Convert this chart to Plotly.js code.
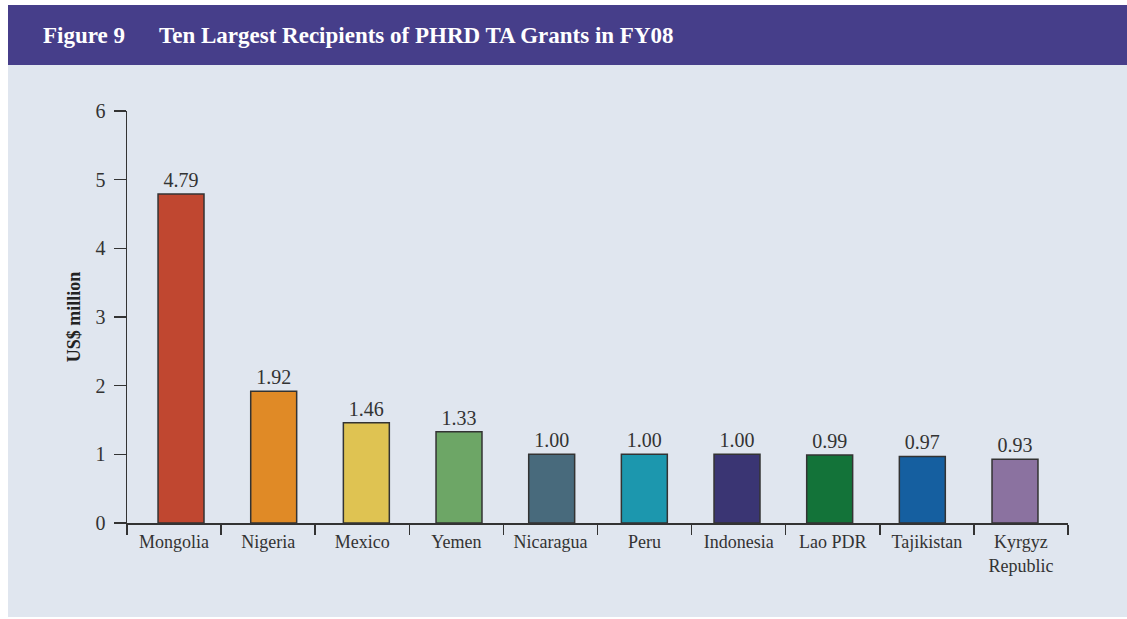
<!DOCTYPE html>
<html>
<head>
<meta charset="utf-8">
<script src="https://cdn.plot.ly/plotly-3.0.1.min.js"></script>
<style>
  html, body { margin: 0; padding: 0; background: #ffffff; }
  #chart { width: 1127px; height: 619px; }
</style>
</head>
<body>
<div id="chart"></div>
<script>
// ---- data ----
const countries = ["Mongolia", "Nigeria", "Mexico", "Yemen", "Nicaragua", "Peru", "Indonesia", "Lao PDR", "Tajikistan", "Kyrgyz<br>Republic"];
const grantsUSDm = [4.79, 1.92, 1.46, 1.33, 1.00, 1.00, 1.00, 0.99, 0.97, 0.93];
const valueLabels = ["4.79", "1.92", "1.46", "1.33", "1.00", "1.00", "1.00", "0.99", "0.97", "0.93"];
const barColors = ["#c04730", "#e08a26", "#dfc352", "#6da666", "#486a7c", "#1c97ae", "#3a3573", "#137339", "#155fa0", "#8b72a0"];
const yTicks = [0, 1, 2, 3, 4, 5, 6];

// ---- layout helpers (pixel -> paper) ----
const W = 1127, H = 619;
const M = { l: 127, r: 59, t: 111, b: 96 };
const PW = W - M.l - M.r, PH = H - M.t - M.b;
const px = x => (x - M.l) / PW;
const py = y => (H - M.b - y) / PH;

const serif = "Liberation Serif, DejaVu Serif, serif";
const ink = "#333333";

// bars drawn on a hidden overlay axis (bars sit slightly off-centre in the original)
const bars = {
  type: "bar",
  x: countries,
  y: grantsUSDm,
  xaxis: "x2",
  text: valueLabels,
  textposition: "outside",
  cliponaxis: false,
  textfont: { family: serif, size: 20, color: ink },
  marker: { color: barColors, line: { color: "#333333", width: 1.5 } },
  width: 0.496,
  hoverinfo: "x+y"
};
// category axis carrier for ticks and labels
const axisCarrier = {
  type: "scatter",
  mode: "none",
  x: countries,
  y: grantsUSDm.map(() => 0),
  xaxis: "x",
  hoverinfo: "skip"
};

const layout = {
  width: W, height: H,
  margin: M,
  paper_bgcolor: "#ffffff",
  plot_bgcolor: "rgba(0,0,0,0)",
  showlegend: false,
  font: { family: serif, color: ink },
  xaxis: {
    type: "category",
    tickson: "boundaries",
    ticks: "outside", ticklen: 10, tickwidth: 1.5, tickcolor: ink,
    showline: true, linecolor: ink, linewidth: 1.5,
    showgrid: false, zeroline: false,
    tickfont: { family: serif, size: 18, color: ink },
    ticklabelstandoff: 2,
    range: [-0.5, 9.5],
    fixedrange: true
  },
  xaxis2: {
    type: "category",
    overlaying: "x",
    visible: false,
    range: [-0.583, 9.572],
    fixedrange: true
  },
  yaxis: {
    range: [0, 6],
    tickvals: yTicks,
    ticks: "outside", ticklen: 12, tickwidth: 1.5, tickcolor: ink,
    showline: true, linecolor: ink, linewidth: 1.5,
    showgrid: false, zeroline: false,
    tickfont: { family: serif, size: 20, color: ink },
    ticklabelstandoff: 4,
    title: { text: "<b>US$ million</b>", font: { family: serif, size: 18, color: "#222222" }, standoff: 10 },
    fixedrange: true
  },
  shapes: [
    { type: "rect", xref: "paper", yref: "paper", layer: "below",
      x0: px(8), x1: px(1127), y0: py(617), y1: py(65),
      fillcolor: "#e0e6ef", line: { width: 0 } },
    { type: "rect", xref: "paper", yref: "paper", layer: "below",
      x0: px(8), x1: px(1127), y0: py(65), y1: py(5),
      fillcolor: "#463e8a", line: { width: 0 } }
  ],
  annotations: [
    { xref: "paper", yref: "paper", x: px(41), y: py(35), xanchor: "left", yanchor: "middle",
      showarrow: false, text: "<b>Figure 9</b>",
      font: { family: serif, size: 23, color: "#ffffff" } },
    { xref: "paper", yref: "paper", x: px(157), y: py(35), xanchor: "left", yanchor: "middle",
      showarrow: false, text: "<b>Ten Largest Recipients of PHRD TA Grants in FY08</b>",
      font: { family: serif, size: 23, color: "#ffffff" } }
  ]
};

Plotly.newPlot("chart", [axisCarrier, bars], layout, { displayModeBar: false, staticPlot: true });
</script>
</body>
</html>
